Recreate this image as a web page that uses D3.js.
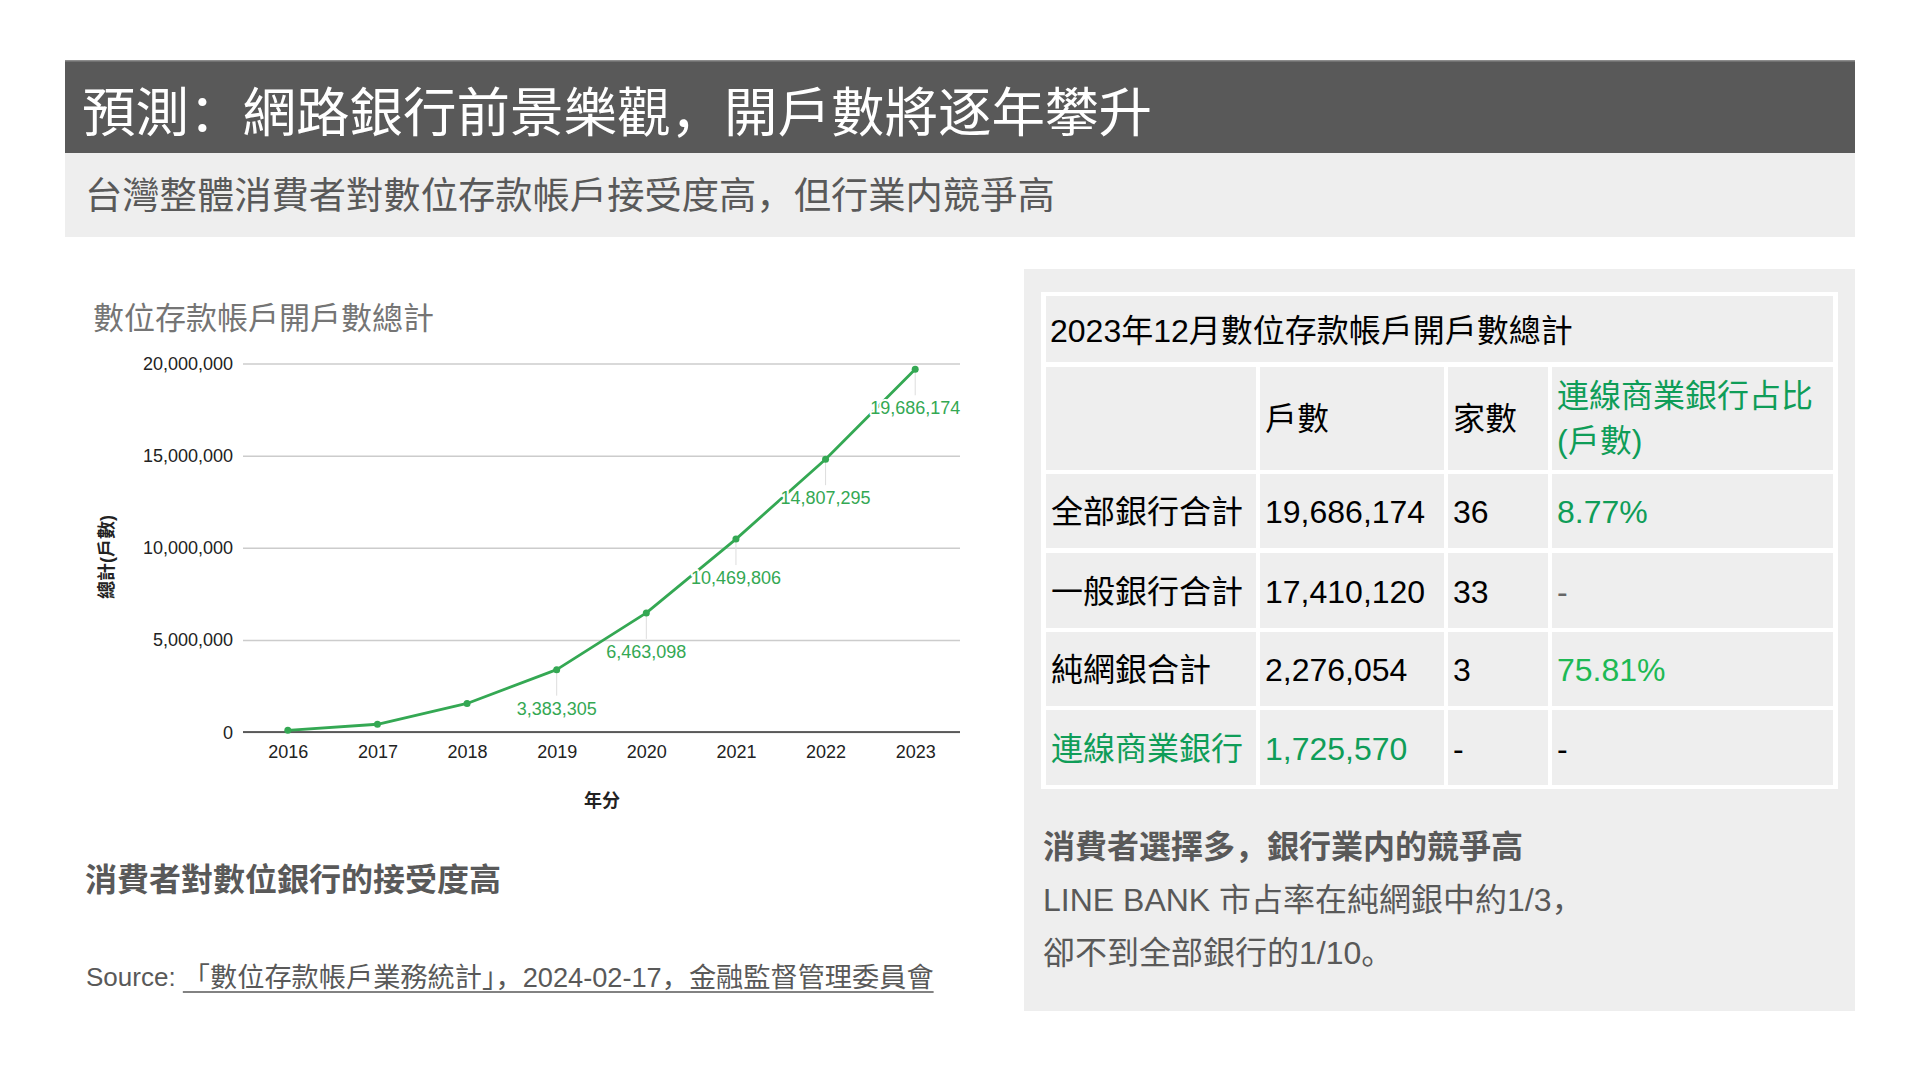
<!DOCTYPE html>
<html>
<head>
<meta charset="utf-8">
<script src="https://cdn.jsdelivr.net/npm/d3@7"></script>
<style>
  html, body { margin: 0; padding: 0; background: #ffffff; }
  svg { display: block; }
  text { font-family: "Liberation Sans", Arial, "Noto Sans CJK SC", sans-serif; }
</style>
</head>
<body>
<svg id="chart" width="1920" height="1080"></svg>
<script>
// ---------- data ----------
const pageTitle = "預測：網路銀行前景樂觀，開戶數將逐年攀升";
const pageSubtitle = "台灣整體消費者對數位存款帳戶接受度高，但行業内競爭高";
const chartTitle = "數位存款帳戶開戶數總計";
const yAxisTitle = "總計(戶數)";
const xAxisTitle = "年分";
const years = ["2016", "2017", "2018", "2019", "2020", "2021", "2022", "2023"];
const accounts = [90000, 420000, 1550000, 3383305, 6463098, 10469806, 14807295, 19686174];
const labeledYears = ["2019", "2020", "2021", "2022", "2023"];
const yTicks = [0, 5000000, 10000000, 15000000, 20000000];

const leftHeading = "消費者對數位銀行的接受度高";
const sourcePrefix = "Source: ";
const sourceLink = "「數位存款帳戶業務統計」，2024-02-17，金融監督管理委員會";

const tableTitle = "2023年12月數位存款帳戶開戶數總計";
const tableHeaders = ["", "戶數", "家數", "連線商業銀行占比|(戶數)"];
const rowLabels = ["全部銀行合計", "一般銀行合計", "純網銀合計", "連線商業銀行"];
const rowAccounts = ["19,686,174", "17,410,120", "2,276,054", "1,725,570"];
const rowBanks = ["36", "33", "3", "-"];
const rowShare = ["8.77%", "-", "75.81%", "-"];

const rightHeading = "消費者選擇多，銀行業内的競爭高";
const rightLines = ["LINE BANK 市占率在純網銀中約1/3，", "卻不到全部銀行的1/10。"];

// ---------- drawing ----------
const svg = d3.select("#chart");
const GREEN_LINE = "#34a853";
const GREEN_TXT = "#0f9d58";
const GREEN_BRIGHT = "#1db954";
const GREY_TXT = "#595959";
const LATIN = "'Liberation Sans', Arial, sans-serif";

// header
svg.append("rect").attr("x", 65).attr("y", 60).attr("width", 1790).attr("height", 93).attr("fill", "#595959");
svg.append("rect").attr("x", 65).attr("y", 60).attr("width", 1790).attr("height", 1.5).attr("fill", "#8c8c8c");
svg.append("rect").attr("x", 65).attr("y", 153).attr("width", 1790).attr("height", 84).attr("fill", "#eeeeee");
svg.append("text").attr("x", 82).attr("y", 113).attr("dominant-baseline", "central")
  .attr("font-size", 53.5).attr("fill", "#ffffff").text(pageTitle);
svg.append("text").attr("x", 85).attr("y", 196).attr("dominant-baseline", "central")
  .attr("font-size", 37.3).attr("fill", GREY_TXT).text(pageSubtitle);

// ---------- line chart ----------
const x = d3.scalePoint().domain(years).range([243, 960]).padding(0.5);
const y = d3.scaleLinear().domain([0, 20000000]).range([732, 363.5]);

svg.append("text").attr("x", 93).attr("y", 318).attr("dominant-baseline", "central")
  .attr("font-size", 31).attr("fill", "#757575").text(chartTitle);

const yAxis = svg.append("g").attr("transform", "translate(243,0)")
  .call(d3.axisLeft(y).tickValues(yTicks).tickFormat(d3.format(",")).tickSize(-717).tickPadding(10));
yAxis.select(".domain").remove();
yAxis.selectAll(".tick line").attr("stroke", "#cccccc").attr("stroke-width", 1.5);
yAxis.selectAll(".tick text").attr("font-size", 18).attr("fill", "#222222")
  .attr("dy", null).attr("dominant-baseline", "central")
  .style("font-family", LATIN);
// baseline
svg.append("line").attr("x1", 243).attr("x2", 960).attr("y1", y(0)).attr("y2", y(0))
  .attr("stroke", "#333333").attr("stroke-width", 1.5);

const xAxis = svg.append("g").attr("transform", `translate(0,${y(0)})`)
  .call(d3.axisBottom(x).tickSize(0));
xAxis.select(".domain").remove();
xAxis.selectAll(".tick text").attr("font-size", 18).attr("fill", "#222222")
  .attr("y", 20).attr("dy", null).attr("dominant-baseline", "central")
  .style("font-family", LATIN);

svg.append("text").attr("transform", "translate(107,557) rotate(-90)")
  .attr("text-anchor", "middle").attr("dominant-baseline", "central")
  .attr("font-size", 18).attr("font-weight", "bold").attr("fill", "#222222").text(yAxisTitle);
svg.append("text").attr("x", 602).attr("y", 801).attr("text-anchor", "middle")
  .attr("dominant-baseline", "central").attr("font-size", 18).attr("font-weight", "bold")
  .attr("fill", "#222222").text(xAxisTitle);

const pts = years.map((yr, i) => ({ yr, v: accounts[i] }));
const labeled = pts.filter(d => labeledYears.includes(d.yr));

// stems
svg.append("g").selectAll("line").data(labeled).join("line")
  .attr("x1", d => x(d.yr)).attr("x2", d => x(d.yr))
  .attr("y1", d => y(d.v)).attr("y2", d => y(d.v) + 26)
  .attr("stroke", "#dddddd").attr("stroke-width", 1);

svg.append("path").datum(pts)
  .attr("d", d3.line().x(d => x(d.yr)).y(d => y(d.v)))
  .attr("fill", "none").attr("stroke", GREEN_LINE).attr("stroke-width", 2.8)
  .attr("stroke-linejoin", "round");

svg.append("g").selectAll("circle").data(pts).join("circle")
  .attr("cx", d => x(d.yr)).attr("cy", d => y(d.v)).attr("r", 3.5).attr("fill", GREEN_LINE);

svg.append("g").selectAll("text").data(labeled).join("text")
  .attr("x", d => x(d.yr)).attr("y", d => y(d.v) + 39)
  .attr("text-anchor", "middle").attr("dominant-baseline", "central")
  .attr("font-size", 18).attr("fill", GREEN_LINE)
  .style("font-family", LATIN)
  .attr("stroke", "#ffffff").attr("stroke-width", 4).attr("paint-order", "stroke")
  .attr("stroke-linejoin", "round")
  .text(d => d3.format(",")(d.v));

// left bottom texts
svg.append("text").attr("x", 85).attr("y", 880).attr("dominant-baseline", "central")
  .attr("font-size", 32).attr("font-weight", "bold").attr("fill", GREY_TXT).text(leftHeading);

const src = svg.append("text").attr("x", 86).attr("y", 977).attr("dominant-baseline", "central")
  .attr("font-size", 26).attr("fill", GREY_TXT);
const t1 = src.append("tspan").text(sourcePrefix);
const t2 = src.append("tspan").attr("font-size", 27.2).text(sourceLink);
const l1 = t1.node().getComputedTextLength();
const l2 = t2.node().getComputedTextLength();
svg.append("line").attr("x1", 86 + l1).attr("x2", 86 + l1 + l2)
  .attr("y1", 992).attr("y2", 992).attr("stroke", GREY_TXT).attr("stroke-width", 1.6);

// ---------- right panel ----------
svg.append("rect").attr("x", 1024).attr("y", 269).attr("width", 831).attr("height", 742).attr("fill", "#eeeeee");
svg.append("rect").attr("x", 1041).attr("y", 292).attr("width", 797).attr("height", 497).attr("fill", "#ffffff");

const colEdges = [[1046, 1256], [1260, 1444], [1448, 1548], [1552, 1833]];
const rowEdges = [[474, 548], [553, 628], [632, 706], [710, 785]];
const titleRow = [296, 362];
const headRow = [367, 470];

svg.append("rect").attr("x", 1046).attr("y", titleRow[0]).attr("width", 1833 - 1046)
  .attr("height", titleRow[1] - titleRow[0]).attr("fill", "#eeeeee");
svg.append("text").attr("x", 1050).attr("y", 331).attr("dominant-baseline", "central")
  .attr("font-size", 32).attr("fill", "#000000").text(tableTitle);

// header row
const hdr = svg.append("g");
hdr.selectAll("rect").data(tableHeaders).join("rect")
  .attr("x", (d, i) => colEdges[i][0]).attr("y", headRow[0])
  .attr("width", (d, i) => colEdges[i][1] - colEdges[i][0]).attr("height", headRow[1] - headRow[0])
  .attr("fill", "#eeeeee");
hdr.selectAll("text").data(tableHeaders).join("text")
  .attr("x", (d, i) => colEdges[i][0] + 5)
  .attr("font-size", 32)
  .attr("fill", (d, i) => i === 3 ? GREEN_TXT : "#000000")
  .each(function (d) {
    const parts = d.split("|");
    const mid = (headRow[0] + headRow[1]) / 2;
    const lh = 45;
    const start = mid - (parts.length - 1) * lh / 2;
    d3.select(this).selectAll("tspan").data(parts).join("tspan")
      .attr("x", d3.select(this).attr("x"))
      .attr("y", (p, j) => start + j * lh)
      .attr("dominant-baseline", "central")
      .text(p => p);
  });

// body rows
const cellColors = [
  ["#000000", "#000000", "#000000", GREEN_TXT],
  ["#000000", "#000000", "#000000", "#666666"],
  ["#000000", "#000000", "#000000", GREEN_BRIGHT],
  [GREEN_TXT, GREEN_TXT, "#000000", "#000000"]
];
const rows = rowLabels.map((lab, i) => [lab, rowAccounts[i], rowBanks[i], rowShare[i]]);
const rg = svg.append("g").selectAll("g").data(rows).join("g");
rg.each(function (cells, ri) {
  const g = d3.select(this);
  g.selectAll("rect").data(cells).join("rect")
    .attr("x", (d, ci) => colEdges[ci][0]).attr("y", rowEdges[ri][0])
    .attr("width", (d, ci) => colEdges[ci][1] - colEdges[ci][0])
    .attr("height", rowEdges[ri][1] - rowEdges[ri][0]).attr("fill", "#eeeeee");
  g.selectAll("text").data(cells).join("text")
    .attr("x", (d, ci) => colEdges[ci][0] + 5)
    .attr("y", (rowEdges[ri][0] + rowEdges[ri][1]) / 2 + 1)
    .attr("dominant-baseline", "central").attr("font-size", 32)
    .attr("fill", (d, ci) => cellColors[ri][ci]).text(d => d);
});

svg.append("text").attr("x", 1043).attr("y", 847).attr("dominant-baseline", "central")
  .attr("font-size", 32).attr("font-weight", "bold").attr("fill", GREY_TXT).text(rightHeading);
svg.append("g").selectAll("text").data(rightLines).join("text")
  .attr("x", 1043).attr("y", (d, i) => 900 + i * 53).attr("dominant-baseline", "central")
  .attr("font-size", 32).attr("fill", GREY_TXT).text(d => d);
</script>
</body>
</html>
